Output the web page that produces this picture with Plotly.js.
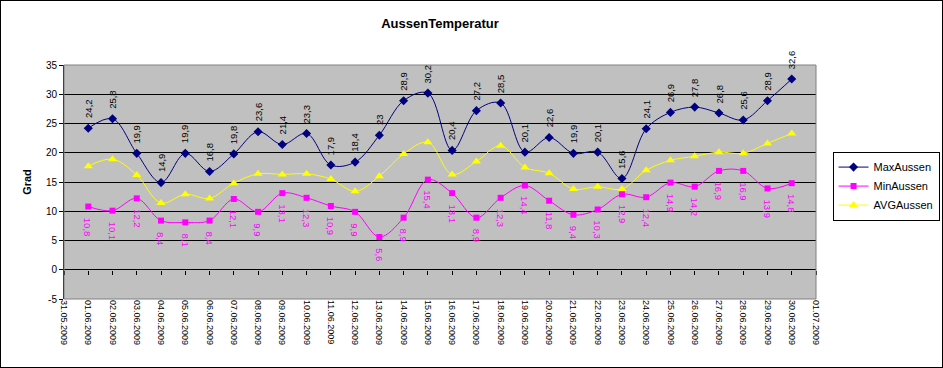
<!DOCTYPE html>
<html>
<head>
<meta charset="utf-8">
<script src="https://cdn.plot.ly/plotly-3.0.1.min.js"></script>
<style>
html,body{margin:0;padding:0;background:#fff;}
#chart{width:941px;height:366px;border:1px solid #000;}
</style>
</head>
<body>
<div id="chart"></div>
<script>
const dates = ['2009-06-01','2009-06-02','2009-06-03','2009-06-04','2009-06-05','2009-06-06','2009-06-07','2009-06-08','2009-06-09','2009-06-10','2009-06-11','2009-06-12','2009-06-13','2009-06-14','2009-06-15','2009-06-16','2009-06-17','2009-06-18','2009-06-19','2009-06-20','2009-06-21','2009-06-22','2009-06-23','2009-06-24','2009-06-25','2009-06-26','2009-06-27','2009-06-28','2009-06-29','2009-06-30'];
const maxAussen = [24.2,25.8,19.9,14.9,19.9,16.8,19.8,23.6,21.4,23.3,17.9,18.4,23,28.9,30.2,20.4,27.2,28.5,20.1,22.6,19.9,20.1,15.6,24.1,26.9,27.8,26.8,25.6,28.9,32.6];
const minAussen = [10.8,10.1,12.2,8.4,8.1,8.4,12.1,9.9,13.1,12.3,10.9,9.9,5.6,8.9,15.4,13.1,8.9,12.3,14.4,11.8,9.4,10.3,12.9,12.4,14.9,14.2,16.9,16.9,13.9,14.8];
const avgAussen = [17.7,18.9,16.2,11.4,12.9,12.2,14.8,16.4,16.3,16.4,15.5,13.4,16.0,19.8,21.8,16.3,18.5,21.2,17.5,16.5,13.8,14.2,13.8,17.0,18.7,19.4,20.1,19.9,21.6,23.3];
const xRange = ['2009-05-31','2009-07-01'];
const yTicks = [-5,0,5,10,15,20,25,30,35];

const fmt = v => String(v).replace('.', ',');
const font = 'Arial, "Liberation Sans", sans-serif';

const traces = [
  {name:'MaxAussen', x:dates, y:maxAussen, type:'scatter', mode:'lines+markers',
   line:{color:'#000080', width:1, shape:'spline', smoothing:1},
   marker:{symbol:'diamond', size:7, color:'#000080'}},
  {name:'MinAussen', x:dates, y:minAussen, type:'scatter', mode:'lines+markers',
   line:{color:'#FF00FF', width:1, shape:'spline', smoothing:1},
   marker:{symbol:'square', size:6, color:'#FF00FF'}},
  {name:'AVGAussen', x:dates, y:avgAussen, type:'scatter', mode:'lines+markers',
   line:{color:'#FFFF00', width:1, shape:'spline', smoothing:1},
   marker:{symbol:'triangle-up', size:8, color:'#FFFF00'}},
  {name:'axis', x:xRange, y:[null,null], xaxis:'x2', yaxis:'y', type:'scatter', mode:'lines',
   showlegend:false, hoverinfo:'skip'}
];

const annotations = [];
dates.forEach((d,i) => {
  annotations.push({x:d, y:maxAussen[i], xref:'x', yref:'y', text:fmt(maxAussen[i]),
    showarrow:false, textangle:-90, yanchor:'bottom', xanchor:'center', yshift:8,
    font:{family:font, size:9.5, color:'#000'}});
  annotations.push({x:d, y:minAussen[i], xref:'x', yref:'y', text:fmt(minAussen[i]),
    showarrow:false, textangle:90, yanchor:'top', xanchor:'center', yshift:-9,
    font:{family:font, size:9.5, color:'#FF00FF'}});
});

const layout = {
  width:941, height:366,
  margin:{l:63, r:126, t:64, b:68, autoexpand:false},
  paper_bgcolor:'#fff', plot_bgcolor:'#C0C0C0',
  font:{family:font, size:10, color:'#000'},
  title:{text:'<b>AussenTemperatur</b>', x:0.5, xref:'paper', y:0.94, yanchor:'middle', font:{family:font, size:13, color:'#000'}},
  showlegend:true,
  legend:{x:1.022, xanchor:'left', y:0.63, yanchor:'top', bgcolor:'#fff', bordercolor:'#000', borderwidth:1,
    font:{family:font, size:11, color:'#000'}, tracegroupgap:0, itemwidth:30},
  xaxis:{type:'date', range:xRange, anchor:'free', position:0.125, side:'bottom',
    tickmode:'linear', tick0:'2009-05-31', dtick:86400000, ticks:'outside', ticklen:4, tickcolor:'#000',
    showticklabels:false, showgrid:false, showline:false, zeroline:false},
  xaxis2:{type:'date', range:xRange, overlaying:'x', anchor:'y', side:'bottom',
    tickmode:'linear', tick0:'2009-05-31', dtick:86400000, tickformat:'%d.%m.%Y', tickangle:90,
    ticks:'', showgrid:false, showline:false, zeroline:false,
    tickfont:{family:font, size:9, color:'#000'}},
  yaxis:{range:[-5,35], tickvals:yTicks, ticktext:yTicks.map(String), showgrid:true, gridcolor:'#000', gridwidth:1,
    zeroline:true, zerolinecolor:'#000', zerolinewidth:1, showline:true, linecolor:'#000', linewidth:1,
    ticks:'outside', ticklen:4, tickcolor:'#000', tickfont:{family:font, size:10, color:'#000'},
    title:{text:'<b>Grad</b>', standoff:12, font:{family:font, size:11, color:'#000'}}},
  shapes:[{type:'rect', xref:'paper', yref:'paper', x0:0, x1:1, y0:0, y1:1, line:{color:'#808080', width:1}, layer:'above'}],
  annotations:annotations
};

Plotly.newPlot('chart', traces, layout, {displayModeBar:false, staticPlot:true});
</script>
</body>
</html>
